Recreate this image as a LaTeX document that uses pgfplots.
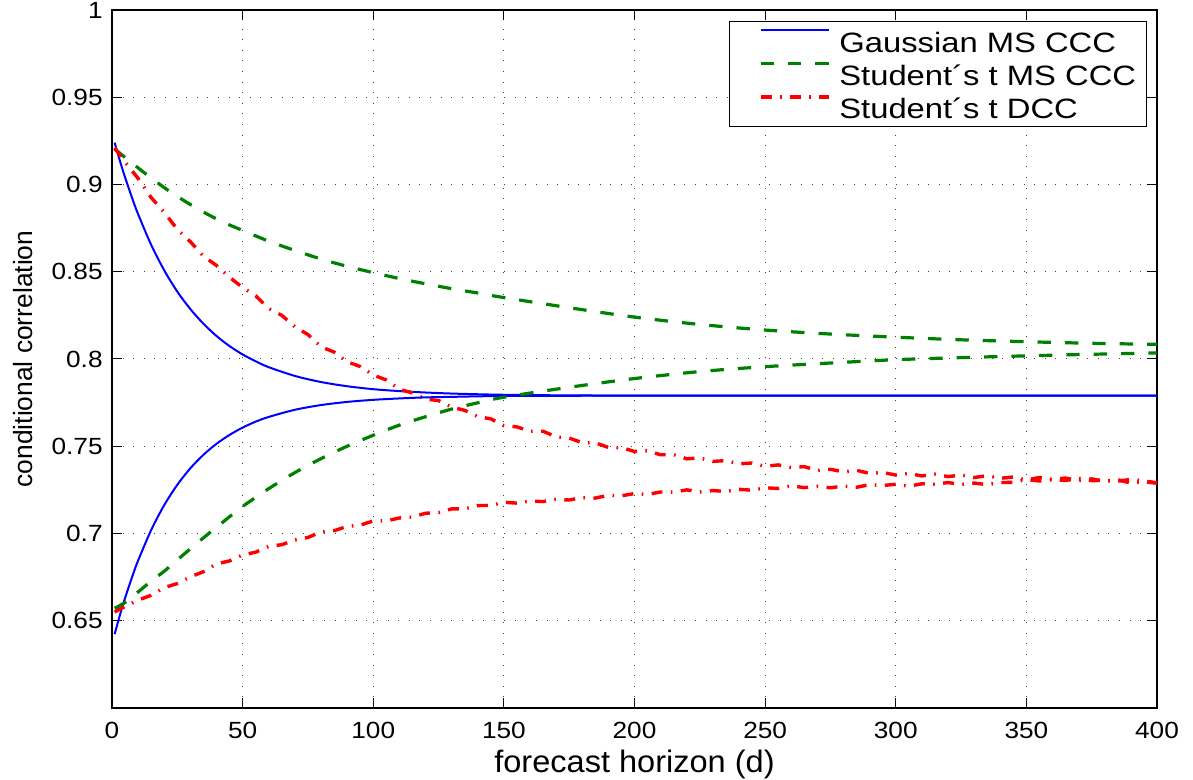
\documentclass[border=0pt]{standalone}
\usepackage{pgfplots}
\pgfplotsset{compat=1.18}
\usepackage{fontspec}
\setmainfont{Liberation Sans}
\newfontfamily\tickfont[FakeStretch=1.12]{Liberation Sans}
\newfontfamily\legfont[FakeStretch=1.17]{Liberation Sans}
\newfontfamily\xlabfont[FakeStretch=1.05]{Liberation Sans}
\definecolor{mblue}{RGB}{0,0,255}
\definecolor{mgreen}{RGB}{0,128,0}
\definecolor{mred}{RGB}{255,0,0}
\begin{document}
\begin{tikzpicture}
\begin{axis}[
  at={(0,0)}, anchor=south west,
  scale only axis, width=522.5bp, height=349bp,
  xmin=0, xmax=400, ymin=0.6, ymax=1,
  xtick={0,50,100,150,200,250,300,350,400},
  xticklabels={0,50,100,150,200,250,300,350,400},
  ytick={0.65,0.7,0.75,0.8,0.85,0.9,0.95,1},
  yticklabels={0.65,0.7,0.75,0.8,0.85,0.9,0.95,1},
  tick align=inside, major tick length=5bp,
  tick style={black, line width=0.5bp},
  axis line style={black, line width=0.8bp},
  grid=major,
  grid style={black!75, line width=0.5bp, dash pattern=on 0.5bp off 4.8bp},
  ticklabel style={font=\tickfont\fontsize{11.7bp}{14bp}\selectfont, inner sep=0pt},
  xticklabel style={anchor=north, yshift=-6.85bp},
  yticklabel style={anchor=east, xshift=-4.5bp},
  xlabel={forecast horizon (d)},
  ylabel={conditional correlation},
  x label style={at={(axis description cs:0.5,-0.0602)}, anchor=north, inner sep=0pt,
     font=\xlabfont\fontsize{15.5bp}{18bp}\selectfont},
  y label style={at={(axis description cs:-0.0756,0.5)}, anchor=south, inner sep=0pt,
     font=\fontsize{13.2bp}{16bp}\selectfont},
  legend style={at={(axis description cs:1,1)}, anchor=north east,
     xshift=-5.2bp, yshift=-5.3bp, draw=black, line width=0.5bp, fill=white,
     inner xsep=5bp, inner ysep=3.8bp, row sep=5bp,
     font=\legfont\fontsize{14bp}{16bp}\selectfont,
     nodes={inner sep=0pt, text height=11.7bp, text depth=0bp}},
  legend cell align=left,
  legend image code/.code={\path (0bp,0bp) (48bp,0bp); \draw[#1] (9.5bp,5bp) -- (43.5bp,5bp);},
]
% Gaussian MS CCC (upper branch)
\addplot[mblue, line width=1bp, smooth] coordinates {
(1,0.924)(3,0.9137)(5,0.9041)(8,0.891)(10,0.883)(15,0.8654)(20,0.8508)(25,0.8386)
(30,0.8286)(35,0.8202)(40,0.8132)(45,0.8074)(50,0.8026)(55,0.7987)(60,0.7953)
(70,0.7903)(80,0.7868)(90,0.7844)(100,0.7827)(110,0.7816)(120,0.7808)(130,0.7802)
(140,0.7798)(150,0.7795)(170,0.7792)(200,0.779)(250,0.779)(300,0.779)(350,0.779)(400,0.779)};
\addlegendentry{Gaussian MS CCC}
% Student's t MS CCC (upper branch)
\addplot[mgreen, line width=1.6bp, dash pattern=on 6.7bp off 7bp, smooth] coordinates {
(1,0.9204)(5,0.9155)(10,0.9095)(15,0.9037)(20,0.8982)(25,0.8932)(30,0.8885)(35,0.8842)
(40,0.8803)(45,0.8768)(50,0.8737)(60,0.8675)(70,0.8622)(80,0.8573)(90,0.8531)
(100,0.8495)(110,0.8461)(120,0.8431)(130,0.8403)(140,0.8378)(150,0.8352)(175,0.8294)
(200,0.8240)(225,0.8198)(250,0.8166)(275,0.8143)(300,0.8125)(325,0.8110)(350,0.8099)
(375,0.8090)(400,0.8084)};
\addlegendentry{Student´s t MS CCC}
% Student's t DCC (upper branch)
\addplot[mred, line width=1.7bp, dash pattern=on 5.5bp off 4.2bp on 0.8bp off 4.2bp] coordinates {
(1,0.9210)(5,0.9128)(10,0.9035)(15,0.8925)(20,0.8840)(25,0.8743)(30,0.8672)(35,0.8589)
(40,0.8536)(45,0.8468)(50,0.8410)(55,0.8362)(60,0.8289)(65,0.8250)(70,0.8185)(75,0.8140)
(80,0.8070)(85,0.8040)(90,0.7984)(95,0.7957)(100,0.7908)(105,0.7880)(110,0.7826)(115,0.7806)
(120,0.7770)(125,0.7762)(130,0.7724)(135,0.7706)(140,0.7670)(145,0.7657)(150,0.7618)
(155,0.7611)(160,0.7586)(165,0.7586)(170,0.7554)(175,0.7547)(180,0.7520)(185,0.7520)
(190,0.7493)(195,0.7492)(200,0.7470)(205,0.7474)(210,0.7451)(215,0.7452)(220,0.7428)
(225,0.7433)(230,0.7413)(235,0.7418)(240,0.7399)(245,0.7404)(250,0.7385)(255,0.7393)
(260,0.7378)(265,0.7383)(270,0.7361)(275,0.7368)(280,0.7353)(285,0.7362)(290,0.7344)
(295,0.7350)(300,0.7335)(305,0.7344)(310,0.7330)(315,0.7340)(320,0.7326)(325,0.7335)
(330,0.7321)(335,0.7331)(340,0.7316)(345,0.7324)(350,0.7307)(355,0.7321)(360,0.7310)
(365,0.7318)(370,0.7303)(375,0.7313)(380,0.7299)(385,0.7308)(390,0.7289)(395,0.7297)(400,0.7288)};
\addlegendentry{Student´s t DCC}
% lower branches
\addplot[mblue, line width=1bp, smooth, forget plot] coordinates {
(1,0.6423)(3,0.6531)(5,0.663)(8,0.6764)(10,0.6845)(15,0.702)(20,0.7163)(25,0.7279)
(30,0.7374)(35,0.7451)(40,0.7514)(45,0.7565)(50,0.7607)(55,0.7641)(60,0.7668)
(70,0.7709)(80,0.7736)(90,0.7754)(100,0.7766)(110,0.7774)(120,0.778)(130,0.7783)
(140,0.7786)(150,0.7788)(170,0.7789)(200,0.779)(250,0.779)(300,0.779)(350,0.779)(400,0.779)};
\addplot[mgreen, line width=1.6bp, dash pattern=on 6.7bp off 7bp, smooth, forget plot] coordinates {
(1,0.6571)(5,0.6605)(10,0.6665)(15,0.6727)(20,0.6784)(25,0.6849)(30,0.6912)(35,0.6975)
(40,0.7036)(45,0.7096)(50,0.7155)(60,0.7257)(70,0.7349)(80,0.7429)(90,0.75)(100,0.7563)
(110,0.7621)(120,0.7669)(130,0.7713)(140,0.7749)(150,0.7781)(175,0.7838)(200,0.7888)
(225,0.7928)(250,0.7956)(275,0.7977)(300,0.7996)(325,0.8008)(350,0.8018)(375,0.8027)(400,0.8035)};
\addplot[mred, line width=1.7bp, dash pattern=on 5.5bp off 4.2bp on 0.8bp off 4.2bp, forget plot] coordinates {
(1,0.6550)(5,0.6582)(10,0.6618)(15,0.6646)(20,0.6690)(25,0.6713)(30,0.6752)(35,0.6781)
(40,0.6826)(45,0.6843)(50,0.6877)(55,0.6893)(60,0.6926)(65,0.6936)(70,0.6963)(75,0.6977)
(80,0.7009)(85,0.7016)(90,0.7041)(95,0.7048)(100,0.7072)(105,0.7072)(110,0.7089)(115,0.7094)
(120,0.7116)(125,0.7120)(130,0.7141)(135,0.7141)(140,0.7160)(145,0.7161)(150,0.7179)
(155,0.7174)(160,0.7186)(165,0.7183)(170,0.7196)(175,0.7192)(180,0.7206)(185,0.7203)
(190,0.7219)(195,0.7216)(200,0.7229)(205,0.7224)(210,0.7238)(215,0.7237)(220,0.7250)
(225,0.7238)(230,0.7246)(235,0.7241)(240,0.7253)(245,0.7248)(250,0.7262)(255,0.7258)
(260,0.7273)(265,0.7263)(270,0.7270)(275,0.7262)(280,0.7272)(285,0.7265)(290,0.7280)
(295,0.7275)(300,0.7282)(305,0.7271)(310,0.7285)(315,0.7282)(320,0.7292)(325,0.7281)
(330,0.7289)(335,0.7280)(340,0.7292)(345,0.7293)(350,0.7309)(355,0.7301)(360,0.7308)
(365,0.7304)(370,0.7315)(375,0.7303)(380,0.7305)(385,0.7300)(390,0.7310)(395,0.7302)(400,0.7290)};
\end{axis}
\pgfresetboundingbox
\path[use as bounding box] (-56bp,-36bp) rectangle (540.5bp,354bp);
\end{tikzpicture}
\end{document}
